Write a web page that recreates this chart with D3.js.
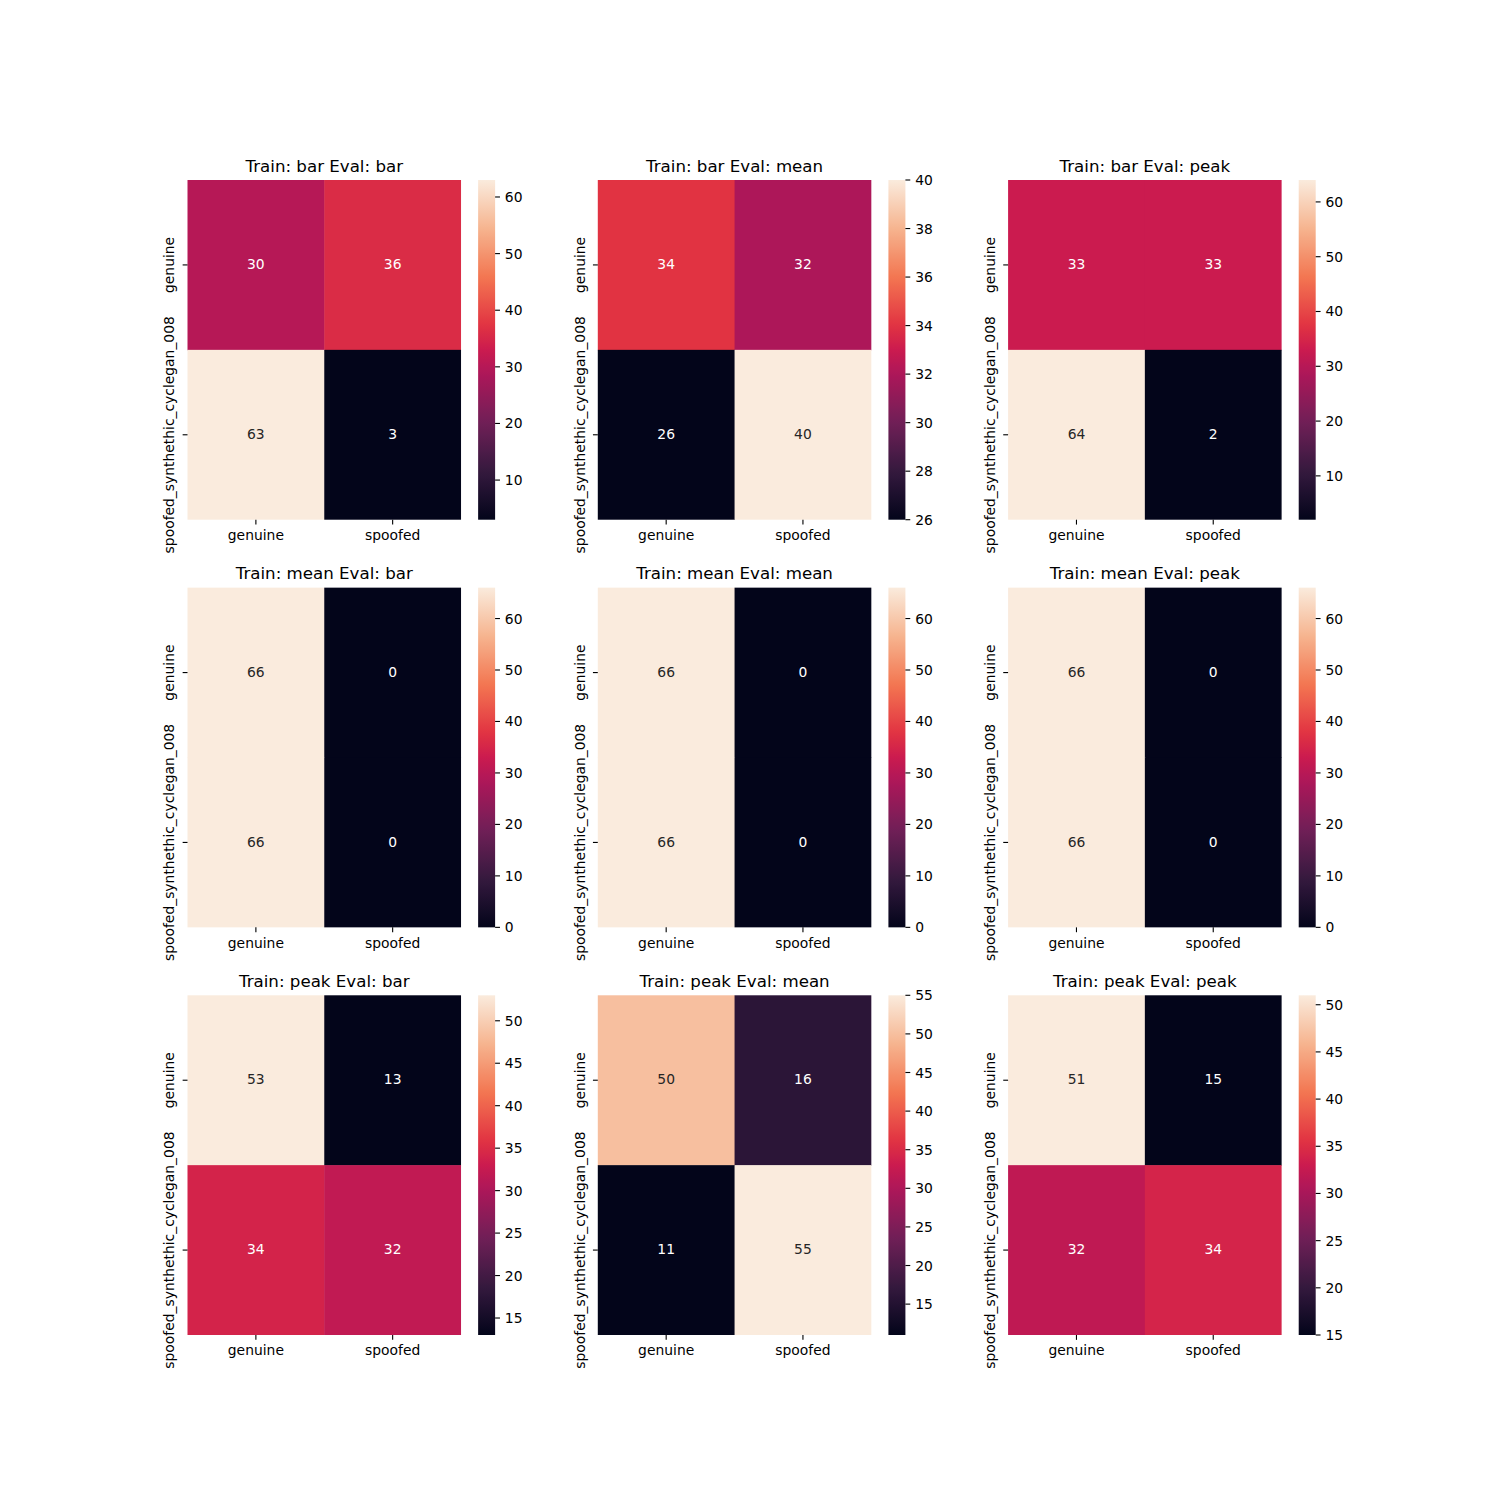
<!DOCTYPE html>
<html><head><meta charset="utf-8">
<script src="https://cdn.jsdelivr.net/npm/d3@7"></script>
<style>body{margin:0;background:#fff}svg{display:block}text{font-family:"DejaVu Sans",sans-serif}</style>
</head><body>
<script>
// ---- data ----
const trainModes = ["bar", "mean", "peak"];
const evalModes = ["bar", "mean", "peak"];
const rowLabels = ["genuine", "spoofed_synthethic_cyclegan_008"];
const colLabels = ["genuine", "spoofed"];
const matrices = [
  [[30, 36], [63, 3]],
  [[34, 32], [26, 40]],
  [[33, 33], [64, 2]],
  [[66, 0], [66, 0]],
  [[66, 0], [66, 0]],
  [[66, 0], [66, 0]],
  [[53, 13], [34, 32]],
  [[50, 16], [11, 55]],
  [[51, 15], [32, 34]]
];
const cbarTicks = [
  [10, 20, 30, 40, 50, 60],
  [26, 28, 30, 32, 34, 36, 38, 40],
  [10, 20, 30, 40, 50, 60],
  [0, 10, 20, 30, 40, 50, 60],
  [0, 10, 20, 30, 40, 50, 60],
  [0, 10, 20, 30, 40, 50, 60],
  [15, 20, 25, 30, 35, 40, 45, 50],
  [15, 20, 25, 30, 35, 40, 45, 50, 55],
  [15, 20, 25, 30, 35, 40, 45, 50]
];
// rocket colormap key colours
const rocketStops = ["#03051a", "#35193e", "#701f57", "#ad1759", "#cb1b4f", "#e13342", "#f37651", "#f6b48f", "#faebdd"];
const rocketPos = [0, 1/7, 2/7, 3/7, 0.5, 4/7, 5/7, 6/7, 1];

// ---- layout ----
const W = 1500, H = 1500;
const figLeft = 0.125 * W, figRight = 0.9 * W, figTop = (1 - 0.88) * H, figBottom = (1 - 0.11) * H;
const cellW = (figRight - figLeft) / (3 + 2 * 0.2), cellH = (figBottom - figTop) / (3 + 2 * 0.2);
const fs = 10 * 100 / 72, tickLen = 3.5 * 100 / 72, tickPad = 3.5 * 100 / 72;

const rocket = d3.scaleLinear().domain(rocketPos).range(rocketStops).interpolate(d3.interpolateRgb).clamp(true);

function lum(c) {
  const rgb = d3.rgb(c);
  const f = v => { v /= 255; return v <= 0.03928 ? v / 12.92 : Math.pow((v + 0.055) / 1.055, 2.4); };
  return 0.2126 * f(rgb.r) + 0.7152 * f(rgb.g) + 0.0722 * f(rgb.b);
}

const svg = d3.select("body").append("svg").attr("width", W).attr("height", H);
const defs = svg.append("defs");

matrices.forEach((m, k) => {
  const r = Math.floor(k / 3), c = k % 3;
  const x0 = figLeft + c * cellW * 1.2, y0 = figTop + r * cellH * 1.2;
  const axW = cellW * 0.8;
  const vals = m.flat();
  const vmin = d3.min(vals), vmax = d3.max(vals);
  const norm = d3.scaleLinear().domain([vmin, vmax]).range([0, 1]);
  const x = d3.scaleBand().domain(colLabels).range([x0, x0 + axW]);
  const y = d3.scaleBand().domain(rowLabels).range([y0, y0 + cellH]);
  const g = svg.append("g");

  // cells
  m.forEach((row, i) => row.forEach((v, j) => {
    const col = rocket(norm(v));
    g.append("rect").attr("x", x(colLabels[j])).attr("y", y(rowLabels[i]))
      .attr("width", x.bandwidth() + (j === 0 ? 0.5 : 0)).attr("height", y.bandwidth() + (i === 0 ? 0.5 : 0)).attr("fill", col);
    g.append("text").attr("x", x(colLabels[j]) + x.bandwidth() / 2).attr("y", y(rowLabels[i]) + y.bandwidth() / 2)
      .attr("text-anchor", "middle").attr("dy", "0.3em").attr("font-size", fs)
      .attr("fill", lum(col) > 0.408 ? "#262626" : "#ffffff").text(v);
  }));

  // x axis ticks
  colLabels.forEach(l => {
    const cx = x(l) + x.bandwidth() / 2;
    g.append("line").attr("x1", cx).attr("x2", cx).attr("y1", y0 + cellH).attr("y2", y0 + cellH + tickLen)
      .attr("stroke", "#000").attr("stroke-width", 0.8 * 100 / 72);
    g.append("text").attr("x", cx).attr("y", y0 + cellH + tickLen + tickPad + 10.6).attr("text-anchor", "middle")
      .attr("font-size", fs).attr("fill", "#000").text(l);
  });
  // y axis ticks
  rowLabels.forEach(l => {
    const cy = y(l) + y.bandwidth() / 2;
    g.append("line").attr("x1", x0).attr("x2", x0 - tickLen).attr("y1", cy).attr("y2", cy)
      .attr("stroke", "#000").attr("stroke-width", 0.8 * 100 / 72);
    const tx = x0 - tickLen - tickPad - 3.3;
    g.append("text").attr("transform", `translate(${tx},${cy}) rotate(-90)`).attr("text-anchor", "middle")
      .attr("font-size", fs).attr("fill", "#000").text(l);
  });
  // title
  g.append("text").attr("x", x0 + axW / 2).attr("y", y0 - 6 * 100 / 72).attr("text-anchor", "middle")
    .attr("font-size", 12 * 100 / 72).attr("fill", "#000")
    .text(`Train: ${trainModes[r]} Eval: ${evalModes[c]}`);

  // colorbar
  const cbX = x0 + cellW * 0.85, cbW = cellH / 20;
  const gid = "grad" + k;
  const grad = defs.append("linearGradient").attr("id", gid).attr("x1", 0).attr("y1", 1).attr("x2", 0).attr("y2", 0);
  d3.range(0, 1.0001, 1 / 64).forEach(t => grad.append("stop").attr("offset", t).attr("stop-color", rocket(t)));
  g.append("rect").attr("x", cbX).attr("y", y0).attr("width", cbW).attr("height", cellH).attr("fill", `url(#${gid})`);
  const cby = d3.scaleLinear().domain([vmin, vmax]).range([y0 + cellH, y0]);
  cbarTicks[k].forEach(t => {
    const ty = cby(t);
    g.append("line").attr("x1", cbX + cbW).attr("x2", cbX + cbW + tickLen).attr("y1", ty).attr("y2", ty)
      .attr("stroke", "#000").attr("stroke-width", 0.8 * 100 / 72);
    g.append("text").attr("x", cbX + cbW + tickLen + tickPad).attr("y", ty).attr("dy", "0.36em")
      .attr("font-size", fs).attr("fill", "#000").text(t);
  });
});
</script>
</body></html>
